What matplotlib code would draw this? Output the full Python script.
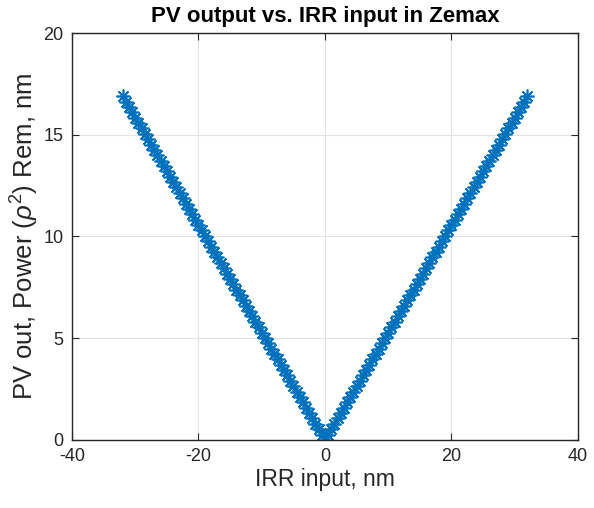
import matplotlib.pyplot as plt

plt.rcParams['font.family'] = ['Liberation Sans', 'DejaVu Sans']
plt.rcParams['mathtext.fontset'] = 'custom'
plt.rcParams['mathtext.it'] = 'Liberation Sans:italic'
plt.rcParams['mathtext.rm'] = 'Liberation Sans'
plt.rcParams['axes.unicode_minus'] = False

# IRR input (nm) and PV output (nm)
irr_in = [
    -32.0, -31.5, -31.0, -30.5, -30.0, -29.5, -29.0, -28.5, -28.0, -27.5,
    -27.0, -26.5, -26.0, -25.5, -25.0, -24.5, -24.0, -23.5, -23.0, -22.5,
    -22.0, -21.5, -21.0, -20.5, -20.0, -19.5, -19.0, -18.5, -18.0, -17.5,
    -17.0, -16.5, -16.0, -15.5, -15.0, -14.5, -14.0, -13.5, -13.0, -12.5,
    -12.0, -11.5, -11.0, -10.5, -10.0, -9.5, -9.0, -8.5, -8.0, -7.5,
    -7.0, -6.5, -6.0, -5.5, -5.0, -4.5, -4.0, -3.5, -3.0, -2.5,
    -2.0, -1.5, -1.0, -0.5, 0.0, 0.5, 1.0, 1.5, 2.0, 2.5,
    3.0, 3.5, 4.0, 4.5, 5.0, 5.5, 6.0, 6.5, 7.0, 7.5,
    8.0, 8.5, 9.0, 9.5, 10.0, 10.5, 11.0, 11.5, 12.0, 12.5,
    13.0, 13.5, 14.0, 14.5, 15.0, 15.5, 16.0, 16.5, 17.0, 17.5,
    18.0, 18.5, 19.0, 19.5, 20.0, 20.5, 21.0, 21.5, 22.0, 22.5,
    23.0, 23.5, 24.0, 24.5, 25.0, 25.5, 26.0, 26.5, 27.0, 27.5,
    28.0, 28.5, 29.0, 29.5, 30.0, 30.5, 31.0, 31.5, 32.0,
]
pv_out = [
    16.90, 16.63, 16.37, 16.10, 15.84, 15.58, 15.31, 15.05, 14.78, 14.52,
    14.26, 13.99, 13.73, 13.46, 13.20, 12.94, 12.67, 12.41, 12.14, 11.88,
    11.62, 11.35, 11.09, 10.82, 10.56, 10.30, 10.03, 9.77, 9.50, 9.24,
    8.98, 8.71, 8.45, 8.18, 7.92, 7.66, 7.39, 7.13, 6.86, 6.60,
    6.34, 6.07, 5.81, 5.54, 5.28, 5.02, 4.75, 4.49, 4.22, 3.96,
    3.70, 3.43, 3.17, 2.90, 2.64, 2.38, 2.11, 1.85, 1.58, 1.32,
    1.06, 0.79, 0.53, 0.26, 0.00, 0.26, 0.53, 0.79, 1.06, 1.32,
    1.58, 1.85, 2.11, 2.38, 2.64, 2.90, 3.17, 3.43, 3.70, 3.96,
    4.22, 4.49, 4.75, 5.02, 5.28, 5.54, 5.81, 6.07, 6.34, 6.60,
    6.86, 7.13, 7.39, 7.66, 7.92, 8.18, 8.45, 8.71, 8.98, 9.24,
    9.50, 9.77, 10.03, 10.30, 10.56, 10.82, 11.09, 11.35, 11.62, 11.88,
    12.14, 12.41, 12.67, 12.94, 13.20, 13.46, 13.73, 13.99, 14.26, 14.52,
    14.78, 15.05, 15.31, 15.58, 15.84, 16.10, 16.37, 16.63, 16.90,
]
x_ticks = [-40, -20, 0, 20, 40]
y_ticks = [0, 5, 10, 15, 20]

text_col = '#262626'
fig = plt.figure(figsize=(5.94, 5.08), dpi=100)
ax = fig.add_axes([0.1212, 0.1339, 0.8518, 0.8011])

# MATLAB-style '*' marker: 8-spoke asterisk
ax.plot(irr_in, pv_out, linestyle='none', marker=(8, 2, 0), markersize=10,
        markeredgewidth=1.2, color='#0072BD')

ax.set_xlim(-40, 40)
ax.set_ylim(0, 20)
ax.set_xticks(x_ticks)
ax.set_yticks(y_ticks)
ax.grid(True, color='#e3e3e3', linewidth=0.8)
ax.set_axisbelow(True)
ax.tick_params(direction='in', length=5, width=0.8, colors=text_col,
               labelsize=13, top=True, right=True, pad=6)
for s in ax.spines.values():
    s.set_color(text_col)
    s.set_linewidth(1.0)

ax.set_xlabel('IRR input, nm', fontsize=16.5, color=text_col, labelpad=2)
ax.set_ylabel(r'PV out, Power ($\rho^2$) Rem, nm', fontsize=18.5,
              color=text_col, labelpad=2)
ax.set_title('PV output vs. IRR input in Zemax', fontsize=16,
             fontweight='bold', color='black', pad=8)

fig.savefig('out.png', dpi=100)
